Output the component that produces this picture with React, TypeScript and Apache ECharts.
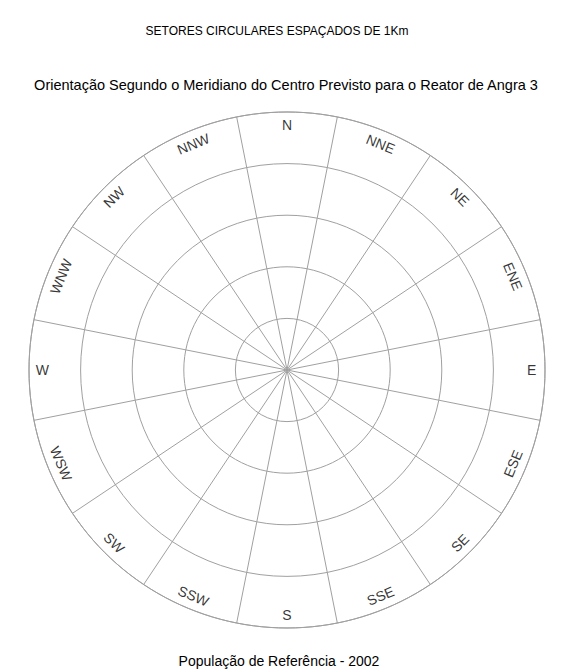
import React, { useEffect, useRef } from "react";
import * as echarts from "echarts";

const title1 = "SETORES CIRCULARES ESPAÇADOS DE 1Km";
const title2 = "Orientação Segundo o Meridiano do Centro Previsto para o Reator de Angra 3";
const footer = "População de Referência - 2002";
const directions = ["N", "NNE", "NE", "ENE", "E", "ESE", "SE", "SSE", "S", "SSW", "SW", "WSW", "W", "WNW", "NW", "NNW"];
const ringsKm = [1, 2, 3, 4, 5];
const labelRadiusKm = 4.74;

function clockwiseRotation(i: number): number {
  const theta = i * 22.5;
  if (theta === 90 || theta === 270) return 0;
  if (theta < 90) return theta;
  if (theta < 270) return theta - 180;
  return theta - 360;
}

export default function App() {
  const ref = useRef<HTMLDivElement>(null);
  useEffect(() => {
    if (!ref.current) return;
    const chart = echarts.init(ref.current, null, { renderer: "svg" });
    const font = "'Liberation Sans', Arial, sans-serif";
    const lineColor = "#a0a0a0";
    chart.setOption({
      animation: false,
      backgroundColor: "#ffffff",
      title: [
        { text: title1, left: 272, top: 20, textAlign: "center", textStyle: { fontSize: 12, fontWeight: "normal", color: "#000", fontFamily: font } },
        { text: title2, left: 281, top: 72, textAlign: "center", textStyle: { fontSize: 14.5, fontWeight: "normal", color: "#000", fontFamily: font } },
        { text: footer, left: 279, top: 654, padding: 0, textAlign: "center", textStyle: { fontSize: 14, fontWeight: "normal", color: "#000", fontFamily: font } },
      ],
      polar: { center: [287, 370], radius: 258 },
      angleAxis: {
        type: "category",
        data: directions,
        boundaryGap: true,
        startAngle: 101.25,
        clockwise: true,
        axisLine: { show: true, lineStyle: { color: lineColor, width: 1 } },
        axisTick: { show: false },
        axisLabel: { show: false },
        splitLine: { show: true, lineStyle: { color: lineColor, width: 1 } },
        splitArea: { show: false },
      },
      radiusAxis: {
        type: "value",
        min: 0,
        max: ringsKm[ringsKm.length - 1],
        interval: 1,
        axisLine: { show: false },
        axisTick: { show: false },
        axisLabel: { show: false },
        splitLine: { show: true, lineStyle: { color: lineColor, width: 1 } },
      },
      series: [
        {
          type: "scatter",
          coordinateSystem: "polar",
          symbolSize: 0,
          silent: true,
          data: directions.map((d, i) => ({
            name: d,
            value: [labelRadiusKm, d],
            label: { rotate: -clockwiseRotation(i) },
          })),
          label: {
            show: true,
            position: "inside",
            formatter: (p: any) => p.name,
            color: "#000",
            fontSize: 14,
            fontFamily: font,
          },
        },
      ],
    });
    return () => chart.dispose();
  }, []);
  return <div ref={ref} style={{ position: "fixed", left: 0, top: 0, width: 561, height: 670 }} />;
}
